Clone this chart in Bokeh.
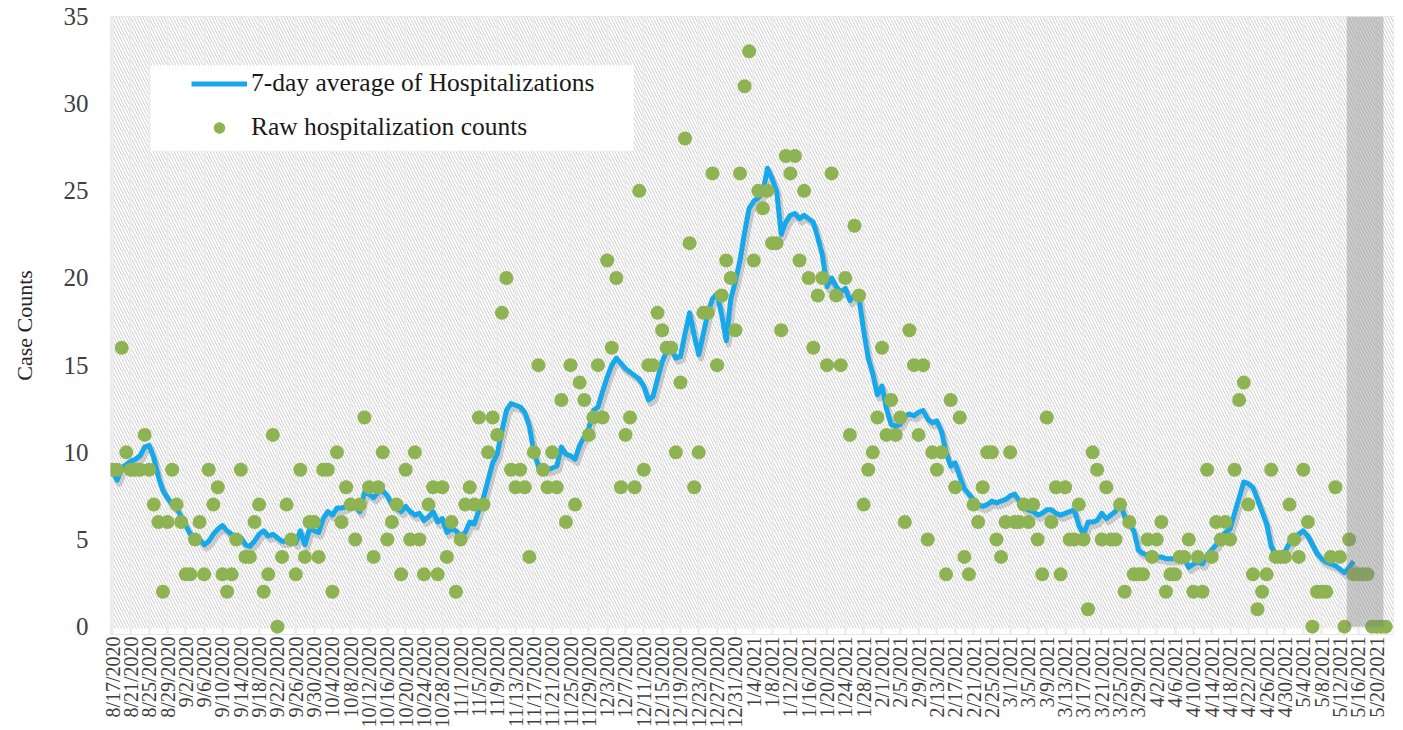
import numpy as np
import pandas as pd
from bokeh.plotting import figure
from bokeh.models import FixedTicker, Range1d, Legend, LegendItem, BoxAnnotation
from bokeh.embed import file_html
from bokeh.resources import INLINE

# ---------------- data ----------------
start_date = "2020-08-17"

raw_counts = [
    9, 9, 16, 10, 9, 9, 9, 11, 9, 7,
    6, 2, 6, 9, 7, 6, 3, 3, 5, 6,
    3, 9, 7, 8, 3, 2, 3, 5, 9, 4,
    4, 6, 7, 2, 3, 11, 0, 4, 7, 5,
    3, 9, 4, 6, 6, 4, 9, 9, 2, 10,
    6, 8, 7, 5, 7, 12, 8, 4, 8, 10,
    5, 6, 7, 3, 9, 5, 10, 5, 3, 7,
    8, 3, 8, 4, 6, 2, 5, 7, 8, 7,
    12, 7, 10, 12, 11, 18, 20, 9, 8, 9,
    8, 4, 10, 15, 9, 8, 10, 8, 13, 6,
    15, 7, 14, 13, 11, 12, 15, 12, 21, 16,
    20, 8, 11, 12, 8, 25, 9, 15, 15, 18,
    17, 16, 16, 10, 14, 28, 22, 8, 10, 18,
    18, 26, 15, 19, 21, 20, 17, 26, 31, 33,
    21, 25, 24, 25, 22, 22, 17, 27, 26, 27,
    21, 25, 20, 16, 19, 20, 15, 26, 19, 15,
    20, 11, 23, 19, 7, 9, 10, 12, 16, 11,
    13, 11, 12, 6, 17, 15, 11, 15, 5, 10,
    9, 10, 3, 13, 8, 12, 4, 3, 7, 6,
    8, 10, 10, 5, 4, 6, 10, 6, 6, 7,
    6, 7, 5, 3, 12, 6, 8, 3, 8, 5,
    5, 7, 5, 1, 10, 9, 5, 8, 5, 5,
    7, 2, 6, 3, 3, 3, 5, 4, 5, 6,
    2, 3, 3, 4, 4, 5, 2, 4, 2, 9,
    4, 6, 5, 6, 5, 9, 13, 14, 7, 3,
    1, 2, 3, 9, 4, 4, 4, 7, 5, 4,
    9, 6, 0, 2, 2, 2, 4, 8, 4, 0,
    5, 3, 3, 3, 3, 0, 0, 0, 0,
]

avg_7day = [
    8.9, 8.4, 9.1, 9.3, 9.5, 9.6, 9.8, 10.3, 10.4, 9.7,
    8.6, 7.8, 7.4, 7.0, 6.8, 6.3, 5.8, 5.3, 5.2, 5.0,
    4.7, 4.9, 5.3, 5.6, 5.8, 5.5, 5.3, 5.2, 5.1, 4.7,
    4.6, 4.9, 5.3, 5.5, 5.2, 5.3, 5.1, 4.9, 4.9, 5.1,
    4.8, 5.5, 4.7, 5.6, 5.5, 5.4, 6.2, 6.6, 6.4, 6.8,
    6.8, 6.9, 7.1, 6.9, 6.6, 7.7, 7.6, 7.4, 7.7, 7.8,
    7.5, 7.0, 6.8, 6.6, 6.9, 6.6, 6.4, 6.5, 6.1, 6.3,
    6.6, 6.0, 6.2, 5.4, 5.6, 5.5, 5.2, 5.4, 6.0, 5.9,
    6.7, 7.4, 8.4, 9.4, 9.9, 11.2, 12.4, 12.8, 12.7, 12.6,
    12.3, 11.5, 10.0, 9.2, 9.0, 9.0, 9.1, 9.2, 10.3, 9.9,
    9.8, 9.6, 10.4, 10.9, 11.4, 12.4, 12.6, 13.5, 14.3, 15.0,
    15.4, 15.1, 14.8, 14.6, 14.4, 14.2, 13.8, 13.0, 13.2, 14.2,
    15.2, 15.8, 15.9, 15.4, 15.5, 16.8, 18.0, 16.7, 15.6, 16.8,
    18.0, 18.8, 19.1, 17.9, 16.4, 18.8, 19.8, 21.0, 22.6, 24.0,
    24.4, 24.6, 24.9, 26.3, 25.7, 25.0, 22.5, 23.2, 23.6, 23.7,
    23.4, 23.6, 23.4, 23.2, 22.3, 21.3, 19.5, 20.0, 19.5, 19.2,
    19.4, 18.7, 19.0, 18.8, 17.0, 15.4, 14.5, 13.3, 13.8, 12.5,
    11.6, 11.5, 11.6, 12.1, 12.2, 12.1, 12.3, 12.4, 11.9, 11.7,
    11.8, 11.2, 10.0, 9.2, 9.4, 8.6, 7.9, 7.6, 7.3, 7.0,
    6.9, 7.0, 7.2, 7.1, 7.2, 7.3, 7.5, 7.6, 7.2, 6.8,
    6.7, 6.6, 6.4, 6.5, 6.7, 6.7, 6.5, 6.4, 6.5, 6.6,
    6.7, 5.8, 5.3, 6.0, 6.0, 6.1, 6.5, 6.2, 6.4, 6.6,
    7.2, 6.3, 5.9, 5.5, 4.4, 4.2, 4.1, 4.1, 4.0, 4.0,
    3.9, 3.9, 3.9, 3.9, 3.9, 3.4, 3.6, 3.7, 3.6, 4.1,
    4.4, 4.7, 5.1, 5.4, 5.6, 6.5, 7.4, 8.3, 8.2, 8.0,
    7.3, 6.6, 5.9, 4.6, 4.1, 4.2, 4.3, 4.8, 5.2, 5.3,
    5.5, 5.2, 4.7, 4.2, 3.9, 3.7, 3.6, 3.5, 3.3, 3.1,
    3.4, 3.75,
]

y_ticks = [0, 5, 10, 15, 20, 25, 30, 35]
tick_step_days = 4
lag_band_dates = ["2021-05-14", "2021-05-21"]   # shaded (incomplete data) window
series_names = ["7-day average of Hospitalizations", "Raw hospitalization counts"]
y_title = "Case Counts"

# ---------------- derived ----------------
dates = pd.date_range(start_date, periods=len(raw_counts), freq="D")
date_labels = [f"{d.month}/{d.day}/{d.year}" for d in dates]
day_idx = np.arange(len(raw_counts))
avg_idx = day_idx[: len(avg_7day)]
tick_idx = list(range(0, len(raw_counts), tick_step_days))
band_lo = int((pd.Timestamp(lag_band_dates[0]) - dates[0]).days) - 0.5
band_hi = int((pd.Timestamp(lag_band_dates[1]) - dates[0]).days) + 0.5

FONT = "Liberation Serif"
BLUE = "#16a8ea"
GREEN = "#8db352"

x_lo, x_hi = -0.45, len(raw_counts) + 0.7
y_lo, y_hi = -0.45, 35

p = figure(width=1403, height=730, output_backend="svg", toolbar_location=None,
           x_range=Range1d(x_lo, x_hi), y_range=Range1d(y_lo, y_hi),
           min_border_left=110, min_border_right=10, min_border_top=16, min_border_bottom=93)
p.background_fill_color = "white"
p.border_fill_color = "white"
p.outline_line_color = "#e6e6e6"

# hatched plot-area background
p.quad(left=x_lo, right=x_hi, bottom=-0.1, top=y_hi, fill_color="white",
       hatch_pattern="\\", hatch_color="#d0d0d0", hatch_scale=6, hatch_weight=1,
       line_color=None, level="image")

# average line (with soft shadow)
p.line(avg_idx + 0.5, np.array(avg_7day) - 0.22, line_color="#6f6f6f", line_alpha=0.3,
       line_width=6, line_join="round")
line_r = p.line(avg_idx, avg_7day, line_color=BLUE, line_width=5, line_join="round")

# raw counts
dots_r = p.scatter(day_idx, raw_counts, size=14, fill_color=GREEN, line_color=None)

# shaded lag window
p.quad(left=band_lo, right=band_hi, bottom=0, top=y_hi, fill_color="#7f7f7f",
       fill_alpha=0.38, line_color=None)

# axes
p.xaxis.ticker = FixedTicker(ticks=tick_idx)
p.xaxis.major_label_overrides = {i: date_labels[i] for i in tick_idx}
p.xaxis.major_label_orientation = np.pi / 2
p.xaxis.major_label_text_font = FONT
p.xaxis.major_label_text_font_size = "20px"
p.xaxis.major_label_text_color = "#404040"
p.xaxis.major_label_standoff = 2

p.yaxis.ticker = FixedTicker(ticks=y_ticks)
p.yaxis.major_label_text_font = FONT
p.yaxis.major_label_text_font_size = "25px"
p.yaxis.major_label_text_color = "#404040"
p.yaxis.major_label_standoff = 22
p.yaxis.axis_label = y_title
p.yaxis.axis_label_text_font = FONT
p.yaxis.axis_label_text_font_size = "22px"
p.yaxis.axis_label_text_font_style = "normal"
p.yaxis.axis_label_text_color = "#262626"
p.yaxis.axis_label_standoff = 24

for ax in (p.xaxis, p.yaxis):
    ax.axis_line_color = None
    ax.major_tick_line_color = None
    ax.minor_tick_line_color = None
    ax.major_tick_out = 0
    ax.major_tick_in = 0

p.xgrid.ticker = FixedTicker(ticks=tick_idx)
p.xgrid.grid_line_color = "#ececec"
p.xgrid.grid_line_width = 2.5
p.ygrid.grid_line_color = None

# legend box + legend
p.add_layout(BoxAnnotation(left=8.3, right=113.8, bottom=27.3, top=32.2,
                           fill_color="white", fill_alpha=1.0, line_color=None))
legend = Legend(items=[LegendItem(label=series_names[0], renderers=[line_r]),
                       LegendItem(label=series_names[1], renderers=[dots_r])],
                location=(81, 492), orientation="vertical",
                glyph_width=56, glyph_height=29, label_height=29, label_standoff=4,
                spacing=14, padding=0, margin=0,
                background_fill_alpha=0, border_line_color=None,
                label_text_font=FONT, label_text_font_size="25.5px",
                label_text_color="#1a1a1a")
p.add_layout(legend)

open("out.html", "w").write(file_html(p, INLINE))
